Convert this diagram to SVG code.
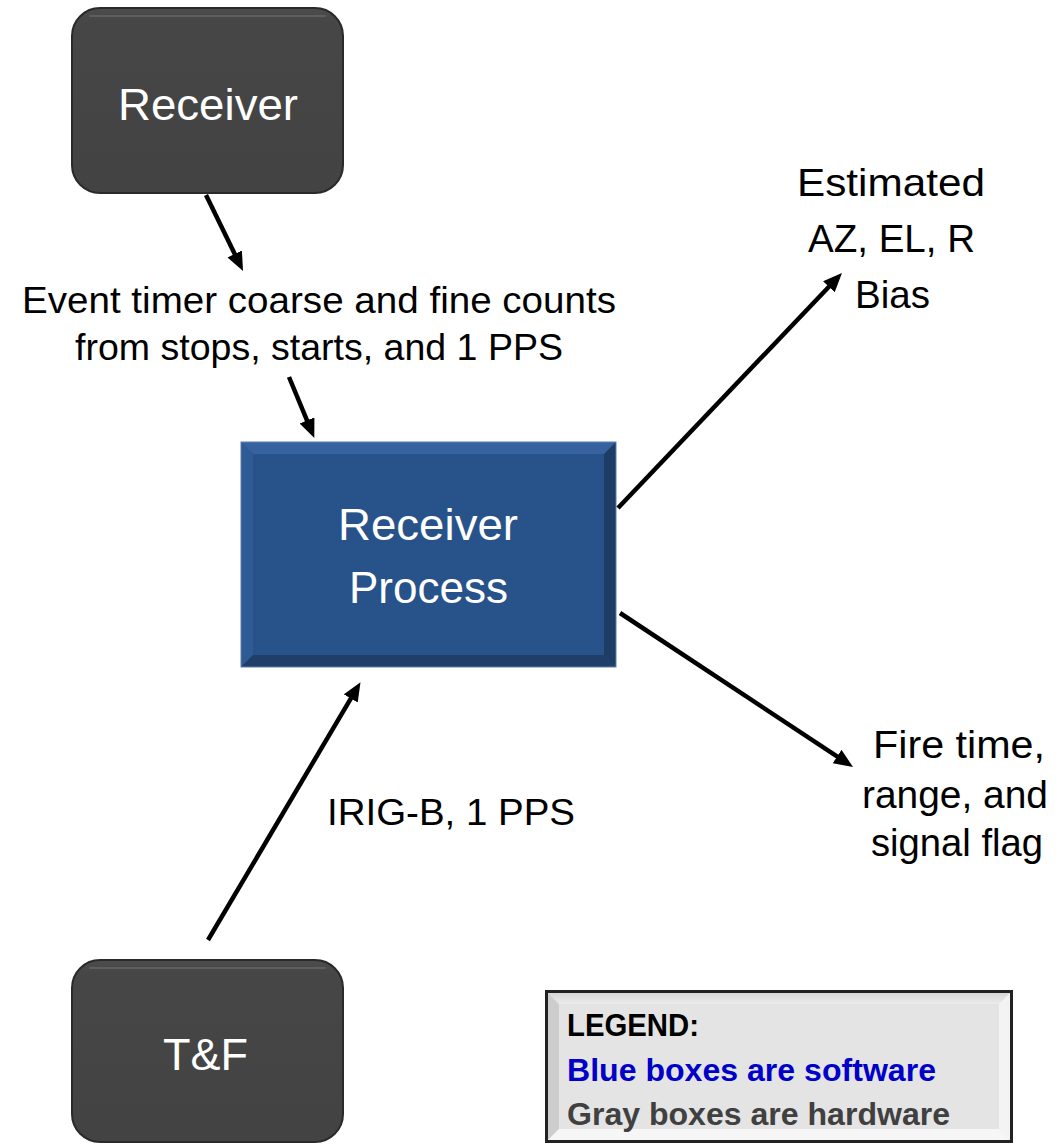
<svg xmlns="http://www.w3.org/2000/svg" width="1061" height="1145" viewBox="0 0 1061 1145">
  <defs>
    <linearGradient id="grayFill" x1="0" y1="0" x2="0" y2="1">
      <stop offset="0" stop-color="#4d4d4d"/>
      <stop offset="0.08" stop-color="#464646"/>
      <stop offset="1" stop-color="#434343"/>
    </linearGradient>
    <linearGradient id="legendTop" x1="0" y1="0" x2="0" y2="1">
      <stop offset="0" stop-color="#d4d4d4"/>
      <stop offset="1" stop-color="#ececec"/>
    </linearGradient>
    <marker id="arrow" markerUnits="userSpaceOnUse" markerWidth="20" markerHeight="18" viewBox="0 0 20 18" refX="8" refY="8" orient="auto">
      <path d="M0,0 L19,8 L0,16 z" fill="#000"/>
    </marker>
  </defs>
  <style>
    .lbl { font-family: "Liberation Sans", Arial, sans-serif; fill: #000; text-anchor: middle; }
    .box { font-family: "Liberation Sans", Arial, sans-serif; fill: #fff; text-anchor: middle; font-size: 45px; }
    .leg { font-family: "Liberation Sans", Arial, sans-serif; font-weight: bold; font-size: 32px; }
    .conn line { stroke: #000; stroke-width: 4.5; marker-end: url(#arrow); }
  </style>
  <rect width="1061" height="1145" fill="#fff"/>

  <g id="receiver">
    <rect x="72" y="8" width="271" height="185" rx="28" ry="28" fill="url(#grayFill)" stroke="#2a2a2a" stroke-width="2"/>
    <path d="M90,16 H325" stroke="#5e5e5e" stroke-width="2" stroke-linecap="round"/>
    <text class="box" x="208" y="120" textLength="180" lengthAdjust="spacingAndGlyphs">Receiver</text>
  </g>

  <g id="tf">
    <rect x="72" y="960" width="271" height="182" rx="28" ry="28" fill="url(#grayFill)" stroke="#2a2a2a" stroke-width="2"/>
    <path d="M90,968 H325" stroke="#5e5e5e" stroke-width="2" stroke-linecap="round"/>
    <text class="box" x="205.5" y="1070" textLength="85" lengthAdjust="spacingAndGlyphs">T&amp;F</text>
  </g>

  <g id="receiver-process">
    <rect x="241" y="442" width="375" height="225" fill="#28528a"/>
    <polygon points="241,442 616,442 604,454 253,454" fill="#3663a0"/>
    <polygon points="241,442 253,454 253,655 241,667" fill="#2f5b95"/>
    <polygon points="616,442 616,667 604,655 604,454" fill="#1d3c66"/>
    <polygon points="241,667 616,667 604,655 253,655" fill="#1f3e69"/>
    <rect x="241" y="442" width="375" height="225" fill="none" stroke="#5d7fae" stroke-width="1"/>
    <text class="box" x="428" y="540" textLength="180" lengthAdjust="spacingAndGlyphs">Receiver</text>
    <text class="box" x="428.5" y="603" textLength="159" lengthAdjust="spacingAndGlyphs">Process</text>
  </g>

  <g id="legend">
    <rect x="545" y="990" width="468" height="153" fill="#e4e4e4"/>
    <polygon points="547,992 1011,992 999,1004 559,1004" fill="url(#legendTop)"/>
    <polygon points="547,992 559,1004 559,1129 547,1141" fill="#cdcdcd"/>
    <polygon points="1011,992 1011,1141 999,1129 999,1004" fill="#f3f3f3"/>
    <polygon points="547,1141 1011,1141 999,1129 559,1129" fill="#f6f6f6"/>
    <rect x="546.5" y="991.5" width="465" height="150" fill="none" stroke="#222" stroke-width="3"/>
    <text class="leg" x="567" y="1036" fill="#000" textLength="132" lengthAdjust="spacingAndGlyphs">LEGEND:</text>
    <text class="leg" x="567" y="1081" fill="#0000c8" textLength="369" lengthAdjust="spacingAndGlyphs">Blue boxes are software</text>
    <text class="leg" x="567" y="1125" fill="#404040" textLength="383" lengthAdjust="spacingAndGlyphs">Gray boxes are hardware</text>
  </g>

  <g id="labels">
    <text class="lbl" x="319" y="313" font-size="36" textLength="594" lengthAdjust="spacingAndGlyphs">Event timer coarse and fine counts</text>
    <text class="lbl" x="319" y="360" font-size="36" textLength="488" lengthAdjust="spacingAndGlyphs">from stops, starts, and 1 PPS</text>
    <text class="lbl" x="891" y="196" font-size="39" textLength="188" lengthAdjust="spacingAndGlyphs">Estimated</text>
    <text class="lbl" x="891.5" y="252" font-size="39" textLength="167" lengthAdjust="spacingAndGlyphs">AZ, EL, R</text>
    <text class="lbl" x="892.5" y="308" font-size="39" textLength="75" lengthAdjust="spacingAndGlyphs">Bias</text>
    <text class="lbl" x="451" y="825" font-size="37" textLength="248" lengthAdjust="spacingAndGlyphs">IRIG-B, 1 PPS</text>
    <text class="lbl" x="959" y="758" font-size="38" textLength="172" lengthAdjust="spacingAndGlyphs">Fire time,</text>
    <text class="lbl" x="955" y="808" font-size="38" textLength="186" lengthAdjust="spacingAndGlyphs">range, and</text>
    <text class="lbl" x="957" y="856" font-size="38" textLength="172" lengthAdjust="spacingAndGlyphs">signal flag</text>
  </g>

  <g id="connectors" class="conn">
    <line x1="206" y1="195" x2="238.2" y2="261.1"/>
    <line x1="289" y1="377" x2="310.1" y2="427.8"/>
    <line x1="618" y1="508" x2="834.4" y2="281"/>
    <line x1="620" y1="613" x2="843.8" y2="760.9"/>
    <line x1="208" y1="940" x2="354.9" y2="691.6"/>
  </g>
</svg>
